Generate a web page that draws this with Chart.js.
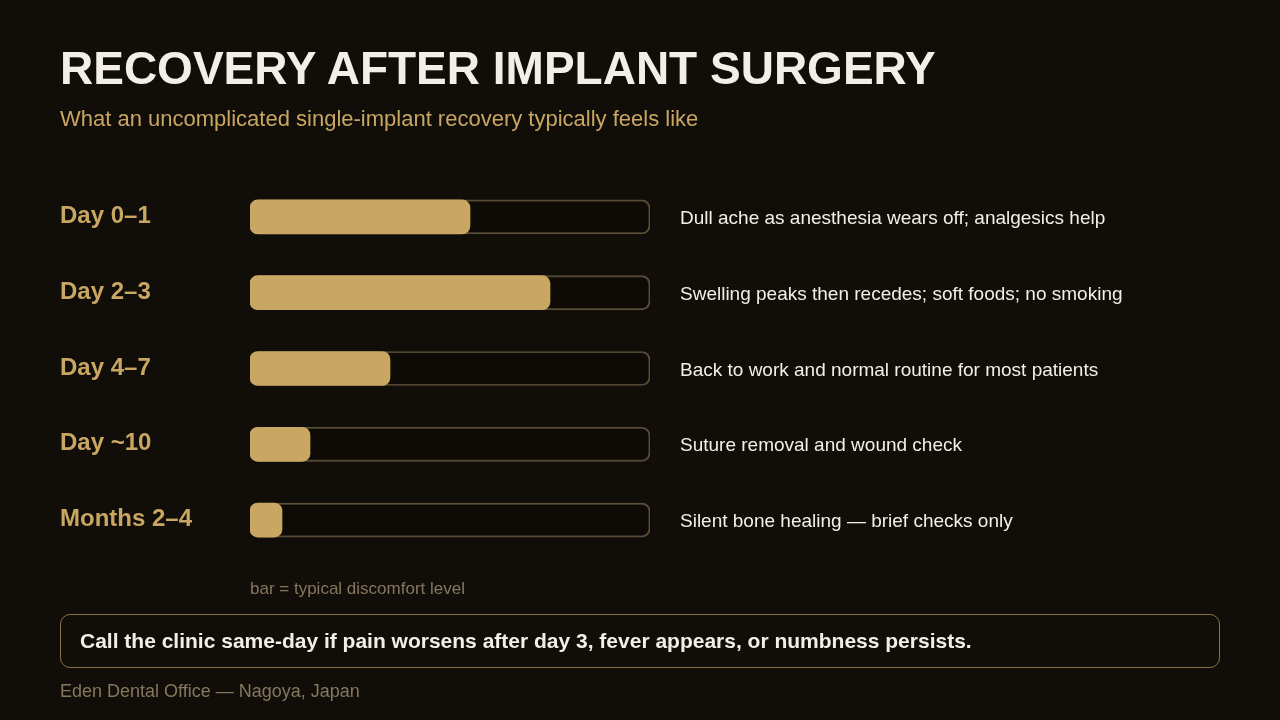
<!DOCTYPE html>
<html>
<head>
<meta charset="utf-8">
<script src="https://cdn.jsdelivr.net/npm/chart.js@4"></script>
<style>
  html, body { margin: 0; padding: 0; background: #110e09; }
  body { width: 1280px; height: 720px; position: relative; overflow: hidden;
         font-family: "Liberation Sans", Arial, sans-serif; }
  #chartWrap { position: absolute; left: 0; top: 0; width: 1280px; height: 720px; }
  .title { position: absolute; left: 60px; top: 40px; margin: 0; color: #f4efe6;
           font-size: 46px; font-weight: bold; line-height: 56px; }
  .sub { position: absolute; left: 60px; top: 106px; color: #c9a661; font-size: 22px; line-height: 26px; }
  .legendNote { position: absolute; left: 250px; top: 579px; color: #85775c; font-size: 17px; line-height: 20px; }
  .callout { position: absolute; left: 60px; top: 614px; width: 1158px; height: 52px;
             border: 1px solid #8c7140; border-radius: 10px; box-sizing: content-box; }
  .callout span { position: absolute; left: 19px; top: 14px; color: #f4efe6; font-size: 21px;
                  font-weight: bold; line-height: 24px; }
  .footer { position: absolute; left: 60px; top: 681px; color: #85775c; font-size: 18px; line-height: 21px; }
</style>
</head>
<body>
<div id="chartWrap"><canvas id="myChart" width="1280" height="720"></canvas></div>
<h1 class="title">RECOVERY AFTER IMPLANT SURGERY</h1>
<div class="sub">What an uncomplicated single-implant recovery typically feels like</div>
<div class="legendNote">bar = typical discomfort level</div>
<div class="callout"><span>Call the clinic same-day if pain worsens after day 3, fever appears, or numbness persists.</span></div>
<div class="footer">Eden Dental Office — Nagoya, Japan</div>

<script>
// data
const stages = ['Day 0–1', 'Day 2–3', 'Day 4–7', 'Day ~10', 'Months 2–4'];
const discomfort = [55, 75, 35, 15, 8];
const fullScale = [100, 100, 100, 100, 100];
const notes = [
  'Dull ache as anesthesia wears off; analgesics help',
  'Swelling peaks then recedes; soft foods; no smoking',
  'Back to work and normal routine for most patients',
  'Suture removal and wound check',
  'Silent bone healing — brief checks only'
];

// labels on the left and notes on the right of each row
const rowText = {
  id: 'rowText',
  afterDatasetsDraw(chart) {
    const c = chart.ctx;
    const y = chart.scales.y;
    c.save();
    c.textBaseline = 'alphabetic';
    c.textAlign = 'left';
    stages.forEach(function(s, i) {
      const py = y.getPixelForValue(i);
      c.font = 'bold 24px "Liberation Sans", Arial, sans-serif';
      c.fillStyle = '#c9a661';
      c.fillText(s, 60, py + 6);
      c.font = '19px "Liberation Sans", Arial, sans-serif';
      c.fillStyle = '#f4efe6';
      c.fillText(notes[i], 680, py + 7);
    });
    c.restore();
  }
};

var ctx = document.getElementById('myChart').getContext('2d');
var chart = new Chart(ctx, {
  type: 'bar',
  data: {
    labels: stages,
    datasets: [{
      label: 'Discomfort',
      data: discomfort,
      backgroundColor: '#c9a661',
      borderWidth: 0,
      borderRadius: 8,
      borderSkipped: false,
      barThickness: 34,
      grouped: false
    }, {
      label: 'Track',
      data: fullScale,
      backgroundColor: 'rgba(0,0,0,0.15)',
      borderColor: '#5c4f39',
      borderWidth: 1.2,
      borderRadius: 8,
      borderSkipped: false,
      barThickness: 34,
      grouped: false
    }]
  },
  options: {
    indexAxis: 'y',
    responsive: false,
    animation: false,
    layout: { padding: { left: 250, right: 630, top: 179, bottom: 162 } },
    scales: {
      x: { display: false, min: 0, max: 100 },
      y: { display: false }
    },
    plugins: { legend: { display: false }, tooltip: { enabled: false } }
  },
  plugins: [rowText]
});
</script>
</body>
</html>
